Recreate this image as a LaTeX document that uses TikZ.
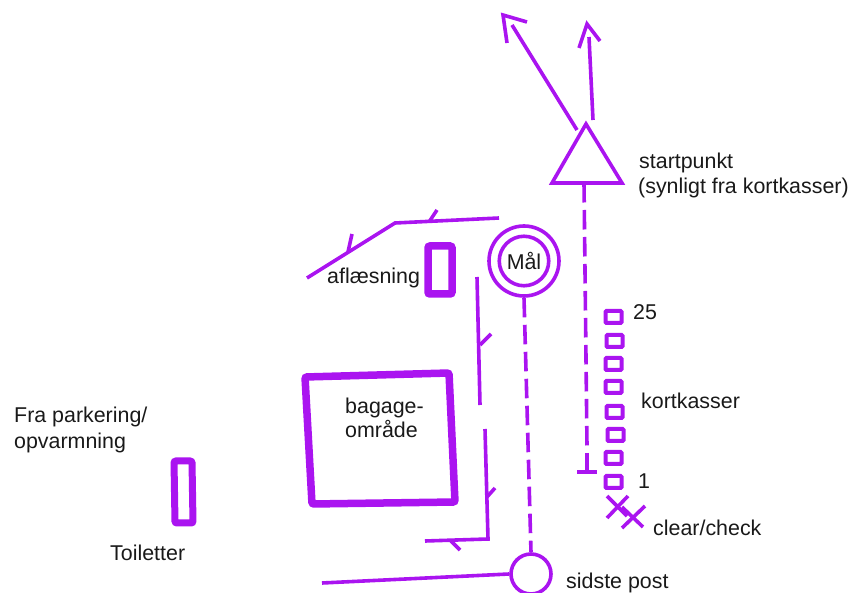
\documentclass[tikz,border=0pt]{standalone}
\usepackage{fontspec}
\setmainfont{Liberation Sans}
\definecolor{vio}{HTML}{AA14F0}
\tikzset{
  lbl/.style={inner sep=0pt,anchor=base west,font=\fontsize{21.4}{24}\selectfont,text=black!90},
  wall/.style={draw=vio,line width=3.6pt},
  dashline/.style={draw=vio,line width=3.6pt,dash pattern=on 19.5pt off 7.5pt},
  heavy/.style={draw=vio,line width=7.5pt,rounded corners=2pt},
  kasse/.style={draw=vio,line width=4pt,rounded corners=1pt,minimum width=16pt,minimum height=12pt,inner sep=0pt},
  ring/.style={circle,draw=vio,line width=3.6pt,inner sep=0pt,fill=white}
}
\begin{document}
\begin{tikzpicture}[x=1pt,y=-1pt]
\useasboundingbox (0,0) rectangle (852,593);
% arrows
\coordinate (a1s) at (577,130); \coordinate (a1e) at (512,25);
\coordinate (a1l) at (507,43); \coordinate (a1t) at (503,15); \coordinate (a1r) at (527,22);
\coordinate (a2s) at (593,120); \coordinate (a2e) at (589,37);
\coordinate (a2l) at (579,48); \coordinate (a2t) at (587,24); \coordinate (a2r) at (600,41);
\draw[wall] (a1s) -- (a1e);
\draw[wall] (a1l) -- (a1t) -- (a1r);
\draw[wall] (a2s) -- (a2e);
\draw[wall] (a2l) -- (a2t) -- (a2r);
% triangle
\coordinate (tt) at (586,124); \coordinate (tl) at (552,183); \coordinate (tr) at (622,183);
\coordinate (tb) at (584,183);
\draw[wall,line join=miter] (tt) -- (tl) -- (tr) -- cycle;
\coordinate (dend) at (587,446);
\draw[dashline] (tb) -- (dend);
\coordinate (ft) at (587,453); \coordinate (fb) at (587,472);
\coordinate (fl) at (577,472); \coordinate (fr) at (597,472);
\draw[wall] (ft) -- (fb); \draw[wall] (fl) -- (fr);
% goal and last control
\node[ring,minimum size=70pt] (malo) at (524,261) {};
\node[ring,minimum size=49.5pt] (mal) at (524,261) {};
\node[lbl,anchor=base] at (524,270) {Mål};
\node[ring,minimum size=40pt] (sidste) at (531,574) {};
\draw[dashline] (malo.south) -- (sidste.north);
\coordinate (ind) at (322,583);
\draw[wall] (ind) -- (sidste.west);
% walls
\coordinate (w1) at (307,278); \coordinate (w2) at (395,223); \coordinate (w3) at (499,218);
\draw[wall] (w1) -- (w2) -- (w3);
\coordinate (t1a) at (348,252); \coordinate (t1b) at (352,234);
\coordinate (t2a) at (429,222); \coordinate (t2b) at (437,210);
\draw[wall] (t1a) -- (t1b); \draw[wall] (t2a) -- (t2b);
\coordinate (r1) at (477,277); \coordinate (r2) at (480,405);
\coordinate (t3a) at (480,345); \coordinate (t3b) at (491,334);
\draw[wall] (r1) -- (r2); \draw[wall] (t3a) -- (t3b);
\coordinate (s1) at (485,429); \coordinate (s2) at (488,539); \coordinate (s3) at (425,541);
\coordinate (t4a) at (487,497); \coordinate (t4b) at (495,488);
\coordinate (t5a) at (451,541); \coordinate (t5b) at (460,550);
\draw[wall] (s1) -- (s2) -- (s3);
\draw[wall] (t4a) -- (t4b); \draw[wall] (t5a) -- (t5b);
% heavy boxes
\draw[heavy] (428,246) rectangle (452,294);
\draw[heavy] (305,377) -- (449,373) -- (455,502) -- (312,504) -- cycle;
\draw[heavy,line width=7pt] (174,461) -- (192,461) -- (193,523) -- (175,523) -- cycle;
% card boxes
\foreach \n/\x/\y in {a/613.5/317,b/614.5/341,c/613.5/364,d/613.5/387,e/614.5/412,f/615.5/435,g/613.5/458,h/613.5/482}
  \node[kasse] (k\n) at (\x,\y) {};
% crosses
\coordinate (c1a) at (607,496); \coordinate (c1b) at (627,516);
\coordinate (c1c) at (628,496); \coordinate (c1d) at (607,518);
\coordinate (c2a) at (622,507); \coordinate (c2b) at (643,527);
\coordinate (c2c) at (645,506); \coordinate (c2d) at (622,528);
\draw[wall] (c1a) -- (c1b); \draw[wall] (c1c) -- (c1d);
\draw[wall] (c2a) -- (c2b); \draw[wall] (c2c) -- (c2d);
% labels
\node[lbl] (l1) at (639,169) {startpunkt};
\node[lbl] (l2) at (638,194) {(synligt fra kortkasser)};
\node[lbl] (l3) at (327,284) {aflæsning};
\node[lbl] (l4) at (345,414) {bagage-};
\node[lbl] (l5) at (345,438) {område};
\node[lbl] (l6) at (641,409) {kortkasser};
\node[lbl] (l7) at (633,320) {25};
\node[lbl] (l8) at (638,489) {1};
\node[lbl] (l9) at (653,536) {clear/check};
\node[lbl] (l10) at (14,423) {Fra parkering/};
\node[lbl] (l11) at (14,449) {opvarmning};
\node[lbl] (l12) at (110,561) {Toiletter};
\node[lbl] (l13) at (566,588.5) {sidste post};
\end{tikzpicture}
\end{document}
